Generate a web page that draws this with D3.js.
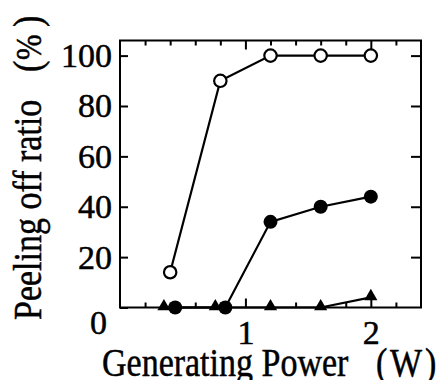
<!DOCTYPE html>
<html>
<head>
<meta charset="utf-8">
<script src="https://cdn.jsdelivr.net/npm/d3@7"></script>
<style>
  body { margin: 0; background: #fff; }
  svg text { font-family: "Liberation Serif", serif; fill: #000; stroke: #000; stroke-width: 0.5px; }
</style>
</head>
<body>
<div id="chart"></div>
<script>
// data (x = generating power W, y = peeling off ratio %)
let openX = [0.40, 0.80, 1.2, 1.6, 2.0]
let openY = [14, 90, 100, 100, 100]
let filledX = [0.44, 0.84, 1.2, 1.6, 2.0]
let filledY = [0, 0, 34, 40, 44]
let triX = [0.35, 0.76, 1.2, 1.6, 2.0]
let triY = [0, 0, 0, 0, 4]

let yTicks = [0, 20, 40, 60, 80, 100]
let xMajor = [1, 2]
let xMinor = [0.2, 0.4, 0.6, 0.8, 1.2, 1.4, 1.6, 1.8, 2.2]

var W = 440, H = 380;
// plot box edges
var pLeft = 120, pRight = 421, pTop = 40.5, pBottom = 307.5;

var svg = d3.select("#chart").append("svg")
  .attr("width", W)
  .attr("height", H);

var x = d3.scaleLinear().domain([0, 2.4]).range([pLeft, pRight]);
var y = d3.scaleLinear().domain([0, 106]).range([pBottom, pTop]);

// frame
svg.append("rect")
  .attr("x", pLeft).attr("y", pTop)
  .attr("width", pRight - pLeft).attr("height", pBottom - pTop)
  .attr("fill", "none").attr("stroke", "#000").attr("stroke-width", 2);

// y axis left (inward ticks) with labels
var yAxis = svg.append("g")
  .attr("transform", "translate(" + pLeft + ",0)")
  .call(d3.axisLeft(y).tickValues(yTicks).tickSizeInner(-8).tickSizeOuter(0).tickPadding(8));
yAxis.select(".domain").remove();
yAxis.selectAll("text").style("font-size", "34px");
// the 0 label sits lower, under the corner
yAxis.selectAll(".tick").filter(function (d) { return d === 0; })
  .select("text").attr("x", -13).attr("dy", "0.75em");

// y axis right, no labels
var yAxisR = svg.append("g")
  .attr("transform", "translate(" + pRight + ",0)")
  .call(d3.axisRight(y).tickValues(yTicks.slice(1)).tickSizeInner(-10).tickSizeOuter(0).tickFormat(""));
yAxisR.select(".domain").remove();

// x axis bottom: minor + major
var xMin = svg.append("g")
  .attr("transform", "translate(0," + pBottom + ")")
  .call(d3.axisBottom(x).tickValues(xMinor).tickSizeInner(-5).tickSizeOuter(0).tickFormat(""));
xMin.select(".domain").remove();
var xMaj = svg.append("g")
  .attr("transform", "translate(0," + pBottom + ")")
  .call(d3.axisBottom(x).tickValues(xMajor).tickSizeInner(-9).tickSizeOuter(0).tickPadding(12).tickFormat(d3.format("d")));
xMaj.select(".domain").remove();
xMaj.selectAll("text").style("font-size", "34px");

// x axis top
var xMinT = svg.append("g")
  .attr("transform", "translate(0," + pTop + ")")
  .call(d3.axisTop(x).tickValues(xMinor).tickSizeInner(-5).tickSizeOuter(0).tickFormat(""));
xMinT.select(".domain").remove();
var xMajT = svg.append("g")
  .attr("transform", "translate(0," + pTop + ")")
  .call(d3.axisTop(x).tickValues(xMajor).tickSizeInner(-9).tickSizeOuter(0).tickFormat(""));
xMajT.select(".domain").remove();

svg.selectAll(".tick line").attr("stroke-width", 2);

// series
var series = [
  { name: "open", xs: openX, ys: openY },
  { name: "filled", xs: filledX, ys: filledY },
  { name: "tri", xs: triX, ys: triY }
];

var line = d3.line()
  .x(function (d) { return x(d[0]) })
  .y(function (d) { return y(d[1]) });

series.forEach(function (s) {
  s.pts = s.xs.map(function (v, i) { return [v, s.ys[i]]; });
  svg.append("path")
    .attr("d", line(s.pts))
    .attr("fill", "none")
    .attr("stroke", "#000")
    .attr("stroke-width", 2.2);
});

// markers
svg.selectAll("tri")
  .data(series[2].pts)
  .enter()
  .append("path")
  .attr("d", d3.symbol().type(d3.symbolTriangle).size(75))
  .attr("transform", function (d) { return "translate(" + x(d[0]) + "," + (y(d[1]) - 1) + ")"; })
  .attr("fill", "#000");

svg.selectAll("filled")
  .data(series[1].pts)
  .enter()
  .append("circle")
  .attr("cx", function (d) { return x(d[0]) })
  .attr("cy", function (d) { return y(d[1]) })
  .attr("r", 7)
  .attr("fill", "#000");

svg.selectAll("open")
  .data(series[0].pts)
  .enter()
  .append("circle")
  .attr("cx", function (d) { return x(d[0]) })
  .attr("cy", function (d) { return y(d[1]) })
  .attr("r", 6.2)
  .attr("fill", "#fff")
  .attr("stroke", "#000")
  .attr("stroke-width", 2.2);

// axis titles (tall, narrow glyphs -> squeeze along the baseline)
var xTitle = [["Generating Power", 102], ["(", 376], ["W", 390], [")", 425]];
svg.selectAll("xtitle")
  .data(xTitle)
  .enter()
  .append("text")
  .attr("transform", function (d) { return "translate(" + d[1] + ",376) scale(0.85,1)"; })
  .style("font-size", "40px")
  .text(function (d) { return d[0]; });

var yTitle = [["Peeling off ratio", 320], ["(", 72], ["%", 60], [")", 27]];
svg.selectAll("ytitle")
  .data(yTitle)
  .enter()
  .append("text")
  .attr("transform", function (d) { return "translate(41," + d[1] + ") rotate(-90) scale(0.85,1)"; })
  .style("font-size", function (d) { return d[0] === "%" ? "36px" : "40px"; })
  .text(function (d) { return d[0]; });
</script>
</body>
</html>
